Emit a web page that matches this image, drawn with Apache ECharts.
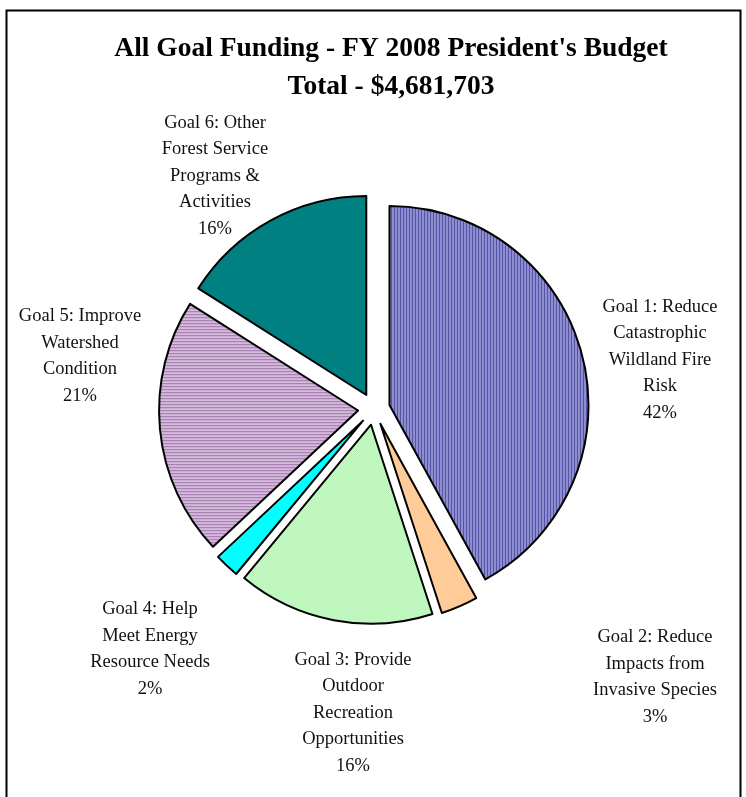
<!DOCTYPE html>
<html>
<head>
<meta charset="utf-8">
<script src="https://cdn.jsdelivr.net/npm/echarts@6/dist/echarts.min.js"></script>
<style>
html,body{margin:0;padding:0;background:#fff;}
#chart{width:746px;height:797px;}
</style>
</head>
<body>
<div id="chart"></div>
<script>
// ---- data ----
var titleLines = ["All Goal Funding - FY 2008 President's Budget", "Total - $4,681,703"];
var categories = [
  "Goal 1: Reduce\nCatastrophic\nWildland Fire\nRisk",
  "Goal 2: Reduce\nImpacts from\nInvasive Species",
  "Goal 3: Provide\nOutdoor\nRecreation\nOpportunities",
  "Goal 4: Help\nMeet Energy\nResource Needs",
  "Goal 5: Improve\nWatershed\nCondition",
  "Goal 6: Other\nForest Service\nPrograms &\nActivities"
];
var percentValues = [42, 3, 16, 2, 21, 16];

// ---- styling / layout ----
function makePattern(w, h, painter) {
  var c = document.createElement('canvas');
  c.width = w; c.height = h;
  var ctx = c.getContext('2d');
  painter(ctx);
  return { image: c, repeat: 'repeat' };
}
var patBlue = makePattern(3, 3, function (ctx) {
  ctx.fillStyle = '#5454aa'; ctx.fillRect(0, 0, 2, 3);
  ctx.fillStyle = '#c8c8f2'; ctx.fillRect(2, 0, 1, 3);
});
var patPurple = makePattern(3, 3, function (ctx) {
  ctx.fillStyle = '#ac80b8'; ctx.fillRect(0, 0, 3, 2);
  ctx.fillStyle = '#f4ecf4'; ctx.fillRect(0, 2, 3, 1);
});
var patGreen = makePattern(2, 2, function (ctx) {
  ctx.fillStyle = '#aaecaa'; ctx.fillRect(0, 0, 2, 2);
  ctx.fillStyle = '#dcfcdc'; ctx.fillRect(0, 0, 1, 1); ctx.fillRect(1, 1, 1, 1);
});
var fills = [patBlue, '#ffcc99', patGreen, '#00ffff', patPurple, '#008080'];
var labelPos = [[660, 360], [655, 677], [353, 713], [150, 649], [80, 356], [215, 176]];

var chart = echarts.init(document.getElementById('chart'), null, { renderer: 'canvas' });
var data = categories.map(function (n, i) {
  return {
    name: n,
    value: percentValues[i],
    selected: true,
    itemStyle: { color: fills[i] }
  };
});
var labelTexts = categories.map(function (n, i) {
  return {
    type: 'text',
    x: labelPos[i][0],
    y: labelPos[i][1],
    silent: true,
    style: {
      text: n + '\n' + percentValues[i] + '%',
      font: '18.5px "Liberation Serif"',
      lineHeight: 26.5,
      fill: '#111',
      align: 'center',
      verticalAlign: 'middle'
    }
  };
});
var option = {
  animation: false,
  backgroundColor: '#ffffff',
  title: [{
    text: titleLines.join('\n'),
    left: 386, top: 25,
    textAlign: 'center',
    textStyle: { fontFamily: 'Liberation Serif', fontWeight: 'bold', fontSize: 27.5, lineHeight: 38, color: '#000' }
  }],
  graphic: [{
    type: 'rect',
    shape: { x: 6.5, y: 10.5, width: 734, height: 820 },
    style: { fill: 'none', stroke: '#000', lineWidth: 2 },
    silent: true
  }].concat(labelTexts),
  series: [{
    type: 'pie',
    center: [374, 409],
    radius: 199,
    startAngle: 90,
    clockwise: true,
    selectedMode: 'multiple',
    selectedOffset: 16,
    data: data,
    itemStyle: { borderColor: '#000', borderWidth: 2 },
    select: { itemStyle: { borderColor: '#000', borderWidth: 2 } },
    emphasis: { disabled: true },
    labelLine: { show: false },
    label: { show: false }
  }]
};
chart.setOption(option);
</script>
</body>
</html>
